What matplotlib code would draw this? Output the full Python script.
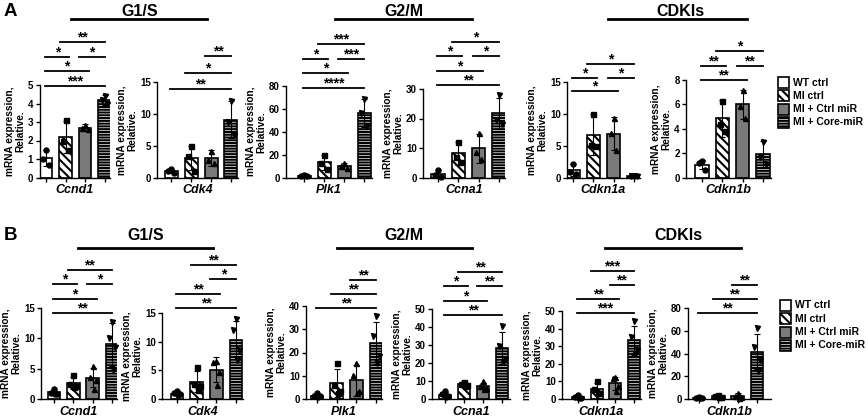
import numpy as np
import matplotlib
matplotlib.use('Agg')
import matplotlib.pyplot as plt
from matplotlib import transforms
from matplotlib.patches import Rectangle

plt.rcParams['font.family'] = ['Liberation Sans', 'DejaVu Sans']
plt.rcParams['font.weight'] = 'bold'
plt.rcParams['hatch.linewidth'] = 1.5

# ---------------- data ----------------
groups = ['WT ctrl', 'MI ctrl', 'MI + Ctrl miR', 'MI + Core-miR']
genes = ['Ccnd1', 'Cdk4', 'Plk1', 'Ccna1', 'Cdkn1a', 'Cdkn1b']
headers = ['G1/S', 'G2/M', 'CDKIs']

# Panel A
A_means = [[1.05, 2.2, 2.7, 4.17],
           [1.0, 3.1, 3.05, 9.1],
           [1.5, 13.3, 10.4, 56.5],
           [1.2, 8.2, 9.9, 21.8],
           [1.15, 6.7, 6.85, 0.2],
           [1.05, 4.85, 6.0, 1.92]]
A_sd = [[0.42, 0.85, 0.2, 0.27],
        [0.35, 1.9, 1.2, 2.9],
        [0.5, 6.5, 2.6, 12.0],
        [1.2, 3.9, 5.0, 5.3],
        [0.95, 3.2, 2.6, 0.05],
        [0.35, 1.5, 1.2, 1.05]]
A_points = [
    [[1.48, 1.0, 0.68], [3.1, 2.0, 1.5], [2.85, 2.65, 2.6], [4.38, 4.2, 3.95]],
    [[1.35, 0.95, 0.7], [5.0, 3.3, 1.0], [4.2, 2.7, 2.25], [12.0, 8.7, 6.6]],
    [[2.0, 1.5, 1.0], [20.0, 12.5, 7.5], [13.0, 10.0, 8.2], [68.5, 56.0, 45.0]],
    [[2.5, 0.8, 0.3], [12.2, 7.0, 5.4], [15.0, 8.5, 6.2], [28.0, 19.5, 18.0]],
    [[2.1, 0.8, 0.55], [10.0, 5.1, 5.0], [9.3, 7.0, 4.25], [0.2, 0.22, 0.18]],
    [[1.35, 1.2, 0.62], [6.3, 4.4, 3.85], [7.2, 5.9, 4.9], [2.95, 1.7, 1.1]]]
A_ticks = [[0, 1, 2, 3, 4, 5], [0, 5, 10, 15], [0, 20, 40, 60, 80],
           [0, 10, 20, 30], [0, 5, 10, 15], [0, 2, 4, 6, 8]]
A_brackets = [
    [(0, 3, '***', 0), (0, 2, '*', 1), (0, 1, '*', 2), (2, 3, '*', 2), (1, 3, '**', 3)],
    [(0, 3, '**', 0), (1, 3, '*', 1), (2, 3, '**', 2)],
    [(0, 3, '****', 0), (0, 2, '*', 1), (0, 1, '*', 2), (2, 3, '***', 2), (1, 3, '***', 3)],
    [(0, 3, '**', 0), (0, 2, '*', 1), (0, 1, '*', 2), (2, 3, '*', 2), (1, 3, '*', 3)],
    [(0, 2, '*', 0), (0, 1, '*', 1), (2, 3, '*', 1), (1, 3, '*', 2)],
    [(0, 2, '**', 0), (0, 1, '**', 1), (2, 3, '**', 1), (1, 3, '*', 2)]]

# Panel B
B_means = [[1.1, 2.6, 3.5, 9.0],
           [0.95, 3.0, 5.1, 10.3],
           [1.5, 6.9, 8.0, 24.0],
           [2.5, 8.3, 7.1, 28.2],
           [1.0, 5.6, 9.0, 33.4],
           [1.2, 2.3, 2.9, 41.7]]
B_sd = [[0.5, 1.0, 1.6, 3.5],
        [0.3, 1.8, 2.2, 3.3],
        [0.8, 6.0, 6.5, 9.0],
        [1.6, 1.6, 1.7, 9.0],
        [0.7, 3.4, 3.7, 8.2],
        [0.5, 1.0, 2.0, 15.5]]
B_points = [
    [[1.7, 1.0, 0.9, 0.8], [3.9, 2.4, 2.2, 1.9], [5.5, 3.6, 3.2, 1.7], [12.7, 10.1, 8.6, 4.8]],
    [[1.35, 1.0, 0.8, 0.65], [5.5, 2.6, 2.2, 1.5], [6.7, 6.5, 4.7, 2.5], [14.0, 12.0, 8.5, 6.8]],
    [[2.4, 1.5, 1.2, 0.9], [15.4, 6.0, 3.5, 2.7], [15.5, 10.5, 3.5, 2.5], [35.5, 26.9, 18.3, 15.3]],
    [[4.2, 3.0, 1.8, 1.0], [9.5, 8.6, 8.0, 7.1], [9.8, 7.0, 6.2, 5.4], [40.5, 29.5, 22.0, 20.8]],
    [[2.0, 1.0, 0.6, 0.4], [10.0, 5.5, 3.5, 3.4], [12.4, 12.1, 7.2, 4.3], [44.5, 35.5, 28.0, 25.6]],
    [[1.9, 1.1, 0.9, 0.9], [3.5, 2.4, 1.9, 1.4], [5.5, 3.0, 1.9, 1.2], [62.0, 46.0, 34.0, 25.0]]]
B_ticks = [[0, 5, 10, 15], [0, 5, 10, 15], [0, 10, 20, 30, 40],
           [0, 10, 20, 30, 40, 50], [0, 10, 20, 30, 40, 50], [0, 20, 40, 60, 80]]
B_brackets = [
    [(0, 3, '**', 0), (0, 2, '*', 1), (0, 1, '*', 2), (2, 3, '*', 2), (1, 3, '**', 3)],
    [(0, 3, '**', 0), (0, 2, '**', 1), (2, 3, '*', 2), (1, 3, '**', 3)],
    [(0, 3, '**', 0), (1, 3, '**', 1), (2, 3, '**', 2)],
    [(0, 3, '**', 0), (0, 2, '*', 1), (0, 1, '*', 2), (2, 3, '**', 2), (1, 3, '**', 3)],
    [(0, 3, '***', 0), (0, 2, '**', 1), (2, 3, '**', 2), (1, 3, '***', 3)],
    [(0, 3, '**', 0), (1, 3, '**', 1), (2, 3, '**', 2)]]

# ---------------- styles / layout (pixels) ----------------
W, H = 868, 420
fills = ['white', 'white', '#7a7a7a', 'white']
hatches = [None, '\\\\\\\\', None, '------']
markers = ['o', 's', '^', 'v']

# (axis left, first bar centre, last bar centre, axis right end)
A_lay = [(39.5, 46, 104.5, 110), (157, 171, 231, 238), (286, 304, 364, 372),
         (423, 438, 499, 505), (567, 573, 634, 640), (686, 702, 763, 771)]
A_ytop = [85, 82, 86, 89, 82, 80]
A_y0 = 177.5
A_brbase = [86, 89, 88, 85, 91, 80]
A_brstep = [14.6, 16.5, 14.6, 14.4, 13.5, 14.5]

B_lay = [(41, 54, 112, 117), (162, 177, 236, 243), (306, 317, 376, 382),
         (432, 445, 502, 510), (562, 578, 634, 641), (688, 699, 757, 771)]
B_ytop = [308, 313, 306, 309, 311, 308]
B_y0 = 399
B_brbase = [313, 308, 308, 315, 313, 313]
B_brstep = [14.3, 14.3, 14.0, 14.3, 14.0, 14.0]


def fy(y):
    return 1 - y / H


fig = plt.figure(figsize=(W / 100, H / 100), dpi=100)


def draw_panel(means, sds, points, ticks, brackets, lay, ytops, y0, brbase, brstep):
    for g in range(len(genes)):
        left, b0, b3, right = lay[g]
        s = (b3 - b0) / 3.0
        ax = fig.add_axes([left / W, fy(y0), (right - left) / W, (y0 - ytops[g]) / H])
        ax.set_xlim((left - b0) / s, 3 + (right - b3) / s)
        ax.set_ylim(0, ticks[g][-1])
        x = np.arange(4)
        for k in range(4):
            ax.bar(x[k], means[g][k], width=0.65, color=fills[k], edgecolor='black',
                   linewidth=1.2, hatch=hatches[k], zorder=2)
        ax.errorbar(x, means[g], yerr=sds[g], fmt='none', ecolor='black',
                    elinewidth=0.8, capsize=2.2, capthick=0.8, zorder=3)
        for k in range(4):
            pts = points[g][k]
            n = len(pts)
            offs = [0.0, -0.13, 0.13] if n == 3 else [0.0, -0.15, 0.15, 0.05]
            ax.plot(x[k] + np.array(offs[:n]), pts, linestyle='none', marker=markers[k],
                    color='black', markersize=3.6, zorder=4, clip_on=False)
        ax.set_yticks(ticks[g])
        ax.set_xticks(x)
        ax.tick_params(axis='y', length=3, width=1, labelsize=7, pad=1.5)
        ax.tick_params(axis='x', length=3, width=1, labelbottom=False)
        for sp in ['top', 'right']:
            ax.spines[sp].set_visible(False)
        for sp in ['left', 'bottom']:
            ax.spines[sp].set_linewidth(1.0)
        ax.set_xlabel(genes[g], fontstyle='italic', fontweight='bold', fontsize=9, labelpad=2)
        ax.set_ylabel('mRNA expression,\nRelative.', fontsize=7.3, fontweight='bold',
                      labelpad=2, linespacing=1.05)
        trans = transforms.blended_transform_factory(ax.transData, fig.transFigure)
        for (i, j, lab, lev) in brackets[g]:
            x0 = i - (0.3 if i > 0 else 0.05)
            x1 = j + (0.2 if j < 3 else 0.0)
            ypx = brbase[g] - lev * brstep[g]
            ax.plot([x0, x1], [fy(ypx), fy(ypx)], color='black', linewidth=1.3,
                    transform=trans, clip_on=False)
            ax.text((x0 + x1) / 2, fy(ypx - 0.5), lab, transform=trans, ha='center',
                    va='baseline', fontsize=10, fontweight='bold')


draw_panel(A_means, A_sd, A_points, A_ticks, A_brackets, A_lay, A_ytop, A_y0, A_brbase, A_brstep)
draw_panel(B_means, B_sd, B_points, B_ticks, B_brackets, B_lay, B_ytop, B_y0, B_brbase, B_brstep)

# headers
hdr_A = [(71, 207, 140), (335, 472, 404), (608, 747, 680)]
hdr_B = [(78, 213, 146), (337, 472, 404), (605, 741, 678)]
for (hdr, ly, ty) in [(hdr_A, 19, 11.5), (hdr_B, 248, 236)]:
    for k, (x0, x1, xc) in enumerate(hdr):
        fig.add_artist(plt.Line2D([x0 / W, x1 / W], [fy(ly), fy(ly)], color='black',
                                  linewidth=2.0, transform=fig.transFigure))
        fig.text(xc / W, fy(ty), headers[k], ha='center', va='center', fontsize=11.5,
                 fontweight='bold')

fig.text(4 / W, fy(12), 'A', ha='left', va='center', fontsize=13.5, fontweight='bold')
fig.text(4 / W, fy(236), 'B', ha='left', va='center', fontsize=13.5, fontweight='bold')

# legends
for (lx, ly) in [(778, 77), (780, 300)]:
    for k in range(4):
        yy = ly + k * 13.3
        r = Rectangle((lx / W, fy(yy + 11)), 11 / W, 11 / H, transform=fig.transFigure,
                      facecolor=fills[k], edgecolor='black', linewidth=1.2, hatch=hatches[k])
        fig.add_artist(r)
        fig.text((lx + 15) / W, fy(yy + 5.5), groups[k], ha='left', va='center',
                 fontsize=7.5, fontweight='bold')

fig.savefig('out.png', dpi=100)
